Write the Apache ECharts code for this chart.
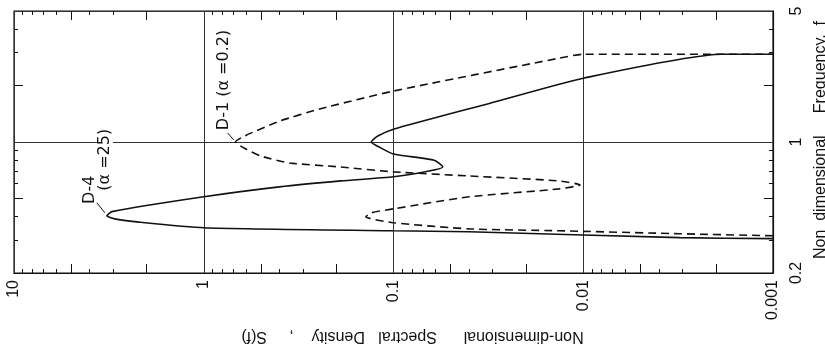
<!DOCTYPE html>
<html>
<head>
<meta charset="utf-8">
<script src="https://cdn.jsdelivr.net/npm/echarts@6/dist/echarts.min.js"></script>
<style>
html, body { margin: 0; padding: 0; background: #fff; }
#chart { width: 825px; height: 351px; }
</style>
</head>
<body>
<div id="chart"></div>
<script>
// D-4 (alpha = 25), solid curve: spectral density S against frequency f
const d4S = [0.001, 0.0031, 0.04, 0.1, 1, 2.25, 2.95, 3.24, 3.05, 1, 0.4, 0.19, 0.1, 0.065, 0.055, 0.061, 0.1, 0.119, 0.131, 0.121, 0.1, 0.031, 0.01, 0.00185, 0.001];
const d4F = [0.305, 0.309, 0.332, 0.336, 0.349, 0.375, 0.389, 0.404, 0.425, 0.51, 0.576, 0.62, 0.652, 0.70, 0.736, 0.80, 0.863, 0.94, 1.0, 1.076, 1.17, 1.61, 2.19, 2.94, 2.94];

// D-1 (alpha = 0.2), dashed curve
const d1S = [0.001, 0.0031, 0.0134, 0.04, 0.1, 0.14, 0.131, 0.1, 0.04, 0.0134, 0.0104, 0.0134, 0.04, 0.1, 0.19, 0.353, 0.5, 0.6, 0.68, 0.61, 0.4, 0.245, 0.1, 0.0134, 0.01, 0.001];
const d1F = [0.316, 0.324, 0.336, 0.344, 0.371, 0.399, 0.419, 0.44, 0.51, 0.562, 0.59, 0.62, 0.659, 0.693, 0.736, 0.773, 0.842, 0.918, 1.0, 1.076, 1.29, 1.5, 1.87, 2.8, 2.94, 2.94];

// tick labels
const sTicks = [0.001, 0.01, 0.1, 1, 10];
const sTickLabels = ['0.001', '0.01', '0.1', '1', '10'];
const fTicks = [0.2, 1, 5];
const fTickLabels = ['0.2', '1', '5'];

// minor ticks (2 and 5 drawn longer)
const sMinorLong = [0.002, 0.005, 0.02, 0.05, 0.2, 0.5, 2, 5];
const sMinorShort = [0.003, 0.004, 0.006, 0.007, 0.008, 0.009,
  0.03, 0.04, 0.06, 0.07, 0.08, 0.09,
  0.3, 0.4, 0.6, 0.7, 0.8, 0.9,
  3, 4, 6, 7, 8, 9];
const fMinorLong = [0.5, 2];
const fMinorShort = [0.3, 0.4, 0.6, 0.7, 0.8, 0.9, 3, 4];

// annotation anchors (curve tips) and leader lines
const d4Tip = [3.24, 0.404];
const d1Tip = [0.68, 1.0];
const d4Leader = [[3.66, 0.474], [3.32, 0.419]];
const d1Leader = [[0.748, 1.117], [0.695, 1.025]];

const ink = '#111';
const font = '"Liberation Sans", Arial, sans-serif';
const noteFont = '"DejaVu Sans", sans-serif';

const pick = (ticks, labels) => (v) => {
  let best = 0;
  ticks.forEach((t, i) => {
    if (Math.abs(Math.log10(t) - Math.log10(v)) < Math.abs(Math.log10(ticks[best]) - Math.log10(v))) best = i;
  });
  return labels[best];
};

// extra axes that only carry tick marks
const sAxis = (pos, values, len) => ({
  type: 'log', logBase: 10, min: 0.001, max: 10, inverse: true, position: pos,
  axisLine: { show: false },
  axisTick: { show: true, inside: true, length: len, customValues: values, lineStyle: { color: ink, width: 1 } },
  axisLabel: { show: false },
  splitLine: { show: false }
});
const fAxis = (pos, values, len) => ({
  type: 'log', logBase: 10, min: 0.2, max: 5, position: pos,
  axisLine: { show: false },
  axisTick: { show: true, inside: true, length: len, customValues: values, lineStyle: { color: ink, width: 1 } },
  axisLabel: { show: false },
  splitLine: { show: false }
});

const chart = echarts.init(document.getElementById('chart'));

chart.setOption({
  backgroundColor: '#fff',
  animation: false,
  grid: { left: 14, right: 52, top: 11, bottom: 78, outerBoundsMode: 'none', containLabel: false,
    show: true, borderColor: ink, borderWidth: 1.2 },
  xAxis: [
    {
      type: 'log', logBase: 10, min: 0.001, max: 10, inverse: true, position: 'bottom',
      name: 'Non-dimensional      Spectral   Density    ,     S(f)',
      nameLocation: 'middle', nameRotate: 180, nameGap: 48,
      nameTextStyle: { color: ink, fontSize: 16, fontFamily: font, padding: [0, 38, 0, 0] },
      axisLine: { show: true, lineStyle: { color: ink, width: 1.2 } },
      axisTick: { show: false, customValues: sTicks },
      axisLabel: { show: true, customValues: sTicks, rotate: 90, margin: 7,
        formatter: pick(sTicks, sTickLabels), color: ink, fontSize: 16, fontFamily: font },
      splitLine: { show: true, lineStyle: { color: '#333', width: 1 } }
    },
    sAxis('bottom', sMinorShort, 4),
    sAxis('bottom', sMinorLong, 9),
    sAxis('top', sMinorShort, 4),
    sAxis('top', sMinorLong, 9)
  ],
  yAxis: [
    {
      type: 'log', logBase: 10, min: 0.2, max: 5, position: 'right',
      name: 'Non  dimensional     Frequency,  f',
      nameLocation: 'middle', nameRotate: 90, nameGap: 33,
      nameTextStyle: { color: ink, fontSize: 16, fontFamily: font, padding: [0, 0, 0, 4] },
      axisLine: { show: true, lineStyle: { color: ink, width: 1.2 } },
      axisTick: { show: false, customValues: fTicks },
      axisLabel: { show: true, customValues: fTicks, rotate: 90, margin: 16,
        formatter: pick(fTicks, fTickLabels), color: ink, fontSize: 16, fontFamily: font },
      splitLine: { show: true, lineStyle: { color: '#333', width: 1 } }
    },
    fAxis('right', fMinorShort, 4),
    fAxis('right', fMinorLong, 9),
    fAxis('left', fMinorShort, 4),
    fAxis('left', fMinorLong, 9)
  ],
  series: [
    {
      name: 'D-4',
      type: 'line',
      data: d4S.map((s, i) => [s, d4F[i]]),
      showSymbol: false,
      smooth: 0.2,
      lineStyle: { color: ink, width: 1.6 },
      markPoint: {
        symbol: 'circle', symbolSize: 0.1, itemStyle: { color: 'transparent' },
        label: { show: true, rotate: 90, color: ink, fontSize: 16, fontFamily: noteFont },
        // label offsets are given in the rotated text frame
        data: [
          { coord: d4Tip, label: { formatter: 'D-4', offset: [26, -17] } },
          { coord: d4Tip, label: { formatter: '(α =25)', offset: [56, -2], backgroundColor: '#fff', padding: [0, 4] } }
        ]
      },
      markLine: {
        silent: true, symbol: 'none', label: { show: false },
        lineStyle: { color: ink, width: 1, type: 'solid' },
        data: [[{ coord: d4Leader[0] }, { coord: d4Leader[1] }]]
      }
    },
    {
      name: 'D-1',
      type: 'line',
      data: d1S.map((s, i) => [s, d1F[i]]),
      showSymbol: false,
      smooth: 0.2,
      lineStyle: { color: ink, width: 1.6, type: [8, 5] },
      markPoint: {
        symbol: 'circle', symbolSize: 0.1, itemStyle: { color: 'transparent' },
        label: { show: true, rotate: 90, color: ink, fontSize: 16, fontFamily: noteFont },
        data: [
          { coord: d1Tip, label: { formatter: 'D-1 (α =0.2)', offset: [62, -12] } }
        ]
      },
      markLine: {
        silent: true, symbol: 'none', label: { show: false },
        lineStyle: { color: ink, width: 1, type: 'solid' },
        data: [[{ coord: d1Leader[0] }, { coord: d1Leader[1] }]]
      }
    }
  ]
});
</script>
</body>
</html>
